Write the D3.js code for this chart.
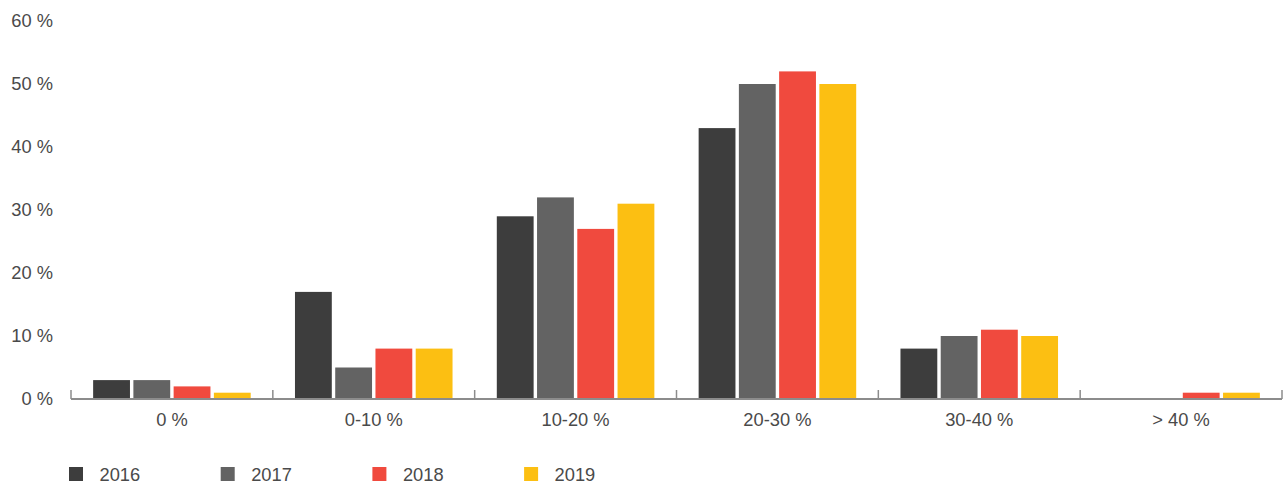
<!DOCTYPE html>
<html><head><meta charset="utf-8">
<script src="https://cdn.jsdelivr.net/npm/d3@7"></script>
<style>body{margin:0;background:#fff}svg text{font-family:"Liberation Sans",Arial,Helvetica,sans-serif}</style>
</head><body><svg id="c" width="1288" height="485"></svg>
<script>
const categories = ["0 %", "0-10 %", "10-20 %", "20-30 %", "30-40 %", "> 40 %"];
const years = ["2016", "2017", "2018", "2019"];
const v2016 = [3, 17, 29, 43, 8, 0];
const v2017 = [3, 5, 32, 50, 10, 0];
const v2018 = [2, 8, 27, 52, 11, 1];
const v2019 = [1, 8, 31, 50, 10, 1];
const colors = ["#3d3d3d", "#636363", "#f04a3e", "#fcbf12"];
const yTicks = [0, 10, 20, 30, 40, 50, 60];

(function () {
const series = [v2016, v2017, v2018, v2019];
const svg = d3.select("#c");
const mLeft = 71, mRight = 1282, mTop = 21, mBottom = 399;
const textColor = "#4a4a4a";
const fs = 18.3;

const x = d3.scaleBand().domain(categories).range([mLeft, mRight]).paddingInner(0).paddingOuter(0);
const x1 = d3.scaleBand().domain(years).range([0, x.bandwidth()]).paddingInner(0.085).paddingOuter(0.55);
const y = d3.scaleLinear().domain([0, 60]).range([mBottom, mTop]);

svg.append("g").selectAll("text").data(yTicks).join("text")
  .attr("x", 53).attr("y", d => y(d)).attr("dy", "0.35em")
  .attr("text-anchor", "end").attr("fill", textColor).attr("font-size", fs)
  .text(d => d + " %");

categories.forEach((c, i) => {
  const g = svg.append("g").attr("transform", `translate(${x(c)},0)`);
  g.selectAll("rect").data(years.map((yr, j) => ({yr, v: series[j][i], j}))).join("rect")
    .attr("x", d => x1(d.yr)).attr("width", x1.bandwidth())
    .attr("y", d => y(d.v)).attr("height", d => y(0) - y(d.v))
    .attr("fill", d => colors[d.j]);
});

svg.append("line").attr("x1", mLeft).attr("x2", mRight).attr("y1", mBottom).attr("y2", mBottom)
  .attr("stroke", "#8c8c8c").attr("stroke-width", 2);
const bounds = categories.map(c => x(c)).concat([mRight]);
svg.append("g").selectAll("line").data(bounds).join("line")
  .attr("x1", d => d).attr("x2", d => d).attr("y1", mBottom).attr("y2", mBottom - 9)
  .attr("stroke", "#8c8c8c").attr("stroke-width", 1.5);

svg.append("g").selectAll("text").data(categories).join("text")
  .attr("x", d => x(d) + x.bandwidth() / 2).attr("y", 420).attr("dy", "0.35em")
  .attr("text-anchor", "middle").attr("fill", textColor).attr("font-size", fs)
  .text(d => d);

const lg = svg.append("g").selectAll("g").data(years).join("g")
  .attr("transform", (d, i) => `translate(${69 + i * 151.7},467)`);
lg.append("rect").attr("width", 14).attr("height", 14).attr("fill", (d, i) => colors[i]);
lg.append("text").attr("x", 30.5).attr("y", 8).attr("dy", "0.35em")
  .attr("fill", textColor).attr("font-size", fs).text(d => d);
})();
</script></body></html>
